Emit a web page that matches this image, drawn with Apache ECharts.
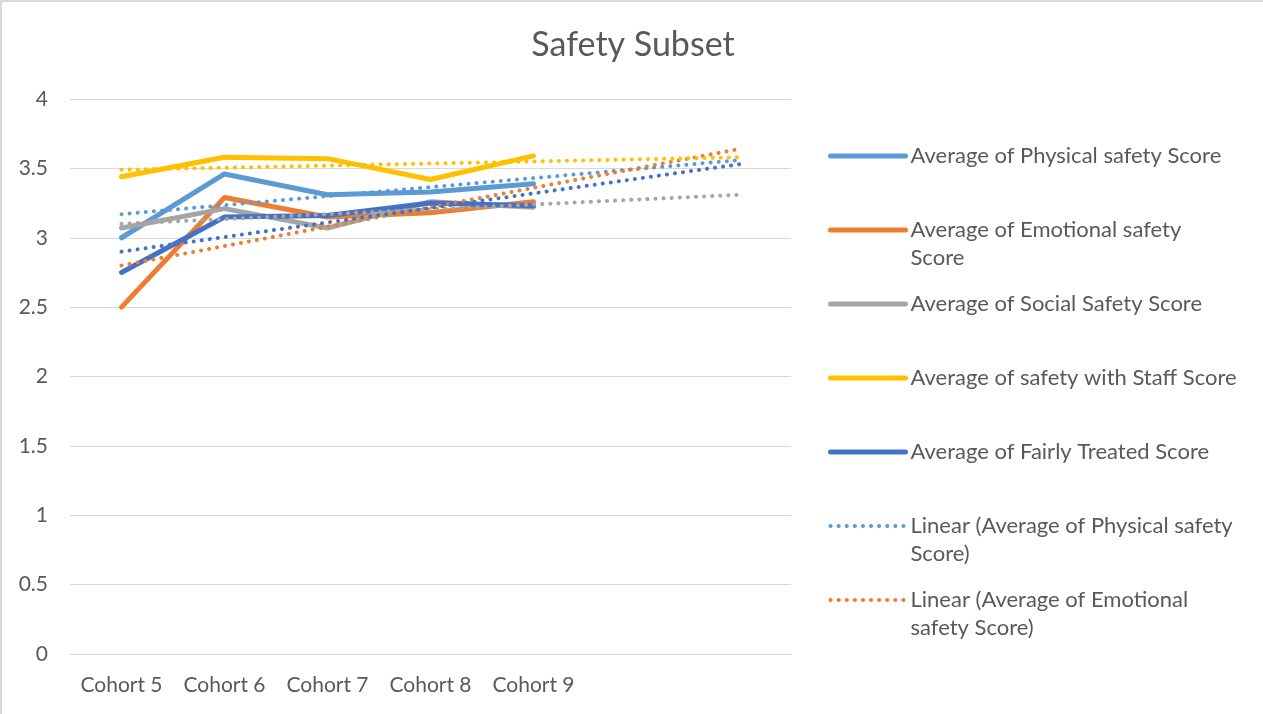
<!DOCTYPE html>
<html>
<head>
<meta charset="utf-8">
<style>
    body{ margin:0; background:#fff; }
    #main{ width:1263px; height:714px; }
    .frame{
        position:absolute; left:0; top:0; width:1263px; height:714px;
        border-top:2px solid #D9D9D9; border-left:2px solid #D9D9D9;
        box-sizing:border-box; pointer-events:none;
    }
</style>
<script src="https://cdn.jsdelivr.net/npm/echarts@6/dist/echarts.min.js"></script>
</head>
<body>
<div id="main"></div>
<div class="frame"></div>
<script>
    var categories = ['Cohort 5', 'Cohort 6', 'Cohort 7', 'Cohort 8', 'Cohort 9', '', ''];

    var physical  = [3.00, 3.46, 3.31, 3.33, 3.39];
    var emotional = [2.50, 3.29, 3.15, 3.18, 3.26];
    var social    = [3.07, 3.21, 3.07, 3.26, 3.22];
    var staff     = [3.44, 3.58, 3.57, 3.42, 3.59];
    var fairly    = [2.75, 3.15, 3.16, 3.25, 3.23];

    // trendline ends (Cohort 5 and two periods past Cohort 9)
    var physicalTrend  = [3.17, 3.56];
    var emotionalTrend = [2.80, 3.64];
    var socialTrend    = [3.10, 3.31];
    var staffTrend     = [3.49, 3.58];
    var fairlyTrend    = [2.90, 3.53];

    var yTicks = [0, 0.5, 1, 1.5, 2, 2.5, 3, 3.5, 4];

    var colors = {
        physical: '#5B9BD5',
        emotional: '#ED7D31',
        social: '#A5A5A5',
        staff: '#FFC000',
        fairly: '#4472C4'
    };

    var legendText = {
        'Average of Physical safety Score': 'Average of Physical safety Score',
        'Average of Emotional safety Score': 'Average of Emotional safety\nScore',
        'Average of Social Safety Score': 'Average of Social Safety Score',
        'Average of safety with Staff Score': 'Average of safety with Staff Score',
        'Average of Fairly Treated Score': 'Average of Fairly Treated Score',
        'Linear (Average of Physical safety Score)': 'Linear (Average of Physical safety\nScore)',
        'Linear (Average of Emotional safety Score)': 'Linear (Average of Emotional\nsafety Score)'
    };

    function trendData(ends){
        var arr = [];
        for (var i = 0; i < categories.length; i++) arr.push(null);
        arr[0] = ends[0];
        arr[categories.length - 1] = ends[1];
        return arr;
    }

    function solid(name, data, color){
        return {
            name: name, type: 'line', data: data, symbol: 'none',
            color: color,
            lineStyle: { width: 5, color: color, cap: 'round', join: 'round' },
            emphasis: { disabled: true }
        };
    }
    function trend(name, ends, color){
        return {
            name: name, type: 'line', data: trendData(ends), symbol: 'none',
            connectNulls: true, color: color,
            lineStyle: { width: 4, color: color, type: [0.1, 8], cap: 'round' },
            emphasis: { disabled: true }
        };
    }

    var chart = echarts.init(document.getElementById('main'));
    var option = {
        animation: false,
        textStyle: { fontFamily: 'Lato' },
        title: {
            text: 'Safety Subset',
            left: 628, textAlign: 'center', top: 23,
            textStyle: { fontSize: 34, fontWeight: 'normal', color: '#595959', fontFamily: 'Lato' }
        },
        legend: {
            orient: 'vertical',
            left: 828, top: 114, padding: 0,
            itemWidth: 75, itemHeight: 14, itemGap: -10,
            itemStyle: { opacity: 0 },
            lineStyle: { width: 'inherit', type: 'inherit', cap: 'round' },
            data: Object.keys(legendText),
            formatter: function(name){
                var t = legendText[name];
                return t.indexOf('\n') >= 0 ? '\n' + t : '\n' + t + '\n';
            },
            textStyle: { fontSize: 22, color: '#595959', lineHeight: 28, fontFamily: 'Lato' }
        },
        grid: { left: 70, right: 472, top: 99, bottom: 60, containLabel: false },
        xAxis: {
            type: 'category', data: categories, boundaryGap: true,
            axisLine: { show: true, lineStyle: { color: '#D9D9D9', width: 1 } },
            axisTick: { show: false },
            axisLabel: { color: '#595959', fontSize: 21, margin: 21, interval: 0 }
        },
        yAxis: {
            type: 'value', min: yTicks[0], max: yTicks[yTicks.length - 1], interval: 0.5,
            axisLine: { show: false }, axisTick: { show: false },
            axisLabel: { color: '#595959', fontSize: 21, margin: 22 },
            splitLine: { lineStyle: { color: '#D9D9D9', width: 1 } }
        },
        series: [
            solid('Average of Physical safety Score', physical, colors.physical),
            solid('Average of Emotional safety Score', emotional, colors.emotional),
            solid('Average of Social Safety Score', social, colors.social),
            solid('Average of safety with Staff Score', staff, colors.staff),
            solid('Average of Fairly Treated Score', fairly, colors.fairly),
            trend('Linear (Average of Physical safety Score)', physicalTrend, colors.physical),
            trend('Linear (Average of Emotional safety Score)', emotionalTrend, colors.emotional),
            trend('Linear (Average of Social Safety Score)', socialTrend, colors.social),
            trend('Linear (Average of safety with Staff Score)', staffTrend, colors.staff),
            trend('Linear (Average of Fairly Treated Score)', fairlyTrend, colors.fairly)
        ]
    };
    chart.setOption(option);
</script>
</body>
</html>
